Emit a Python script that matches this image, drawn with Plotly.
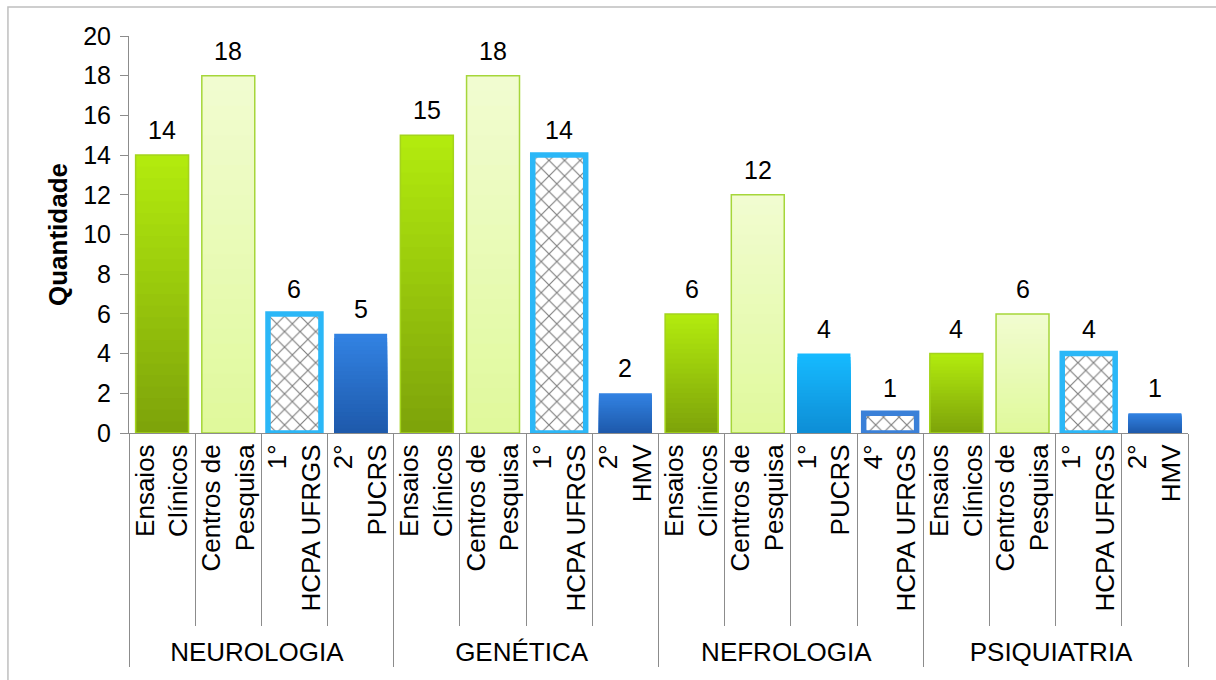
import plotly.graph_objects as go

# Dados: áreas, tipos de item e quantidades
areas = ["NEUROLOGIA"] * 4 + ["GENÉTICA"] * 4 + ["NEFROLOGIA"] * 4 + ["PSIQUIATRIA"] * 4
itens = [
    "Ensaios<br>Clínicos", "Centros de<br>Pesquisa", "1°<br>HCPA UFRGS", "2°<br>PUCRS",
    "Ensaios<br>Clínicos", "Centros de<br>Pesquisa", "1°<br>HCPA UFRGS", "2°<br>HMV",
    "Ensaios<br>Clínicos", "Centros de<br>Pesquisa", "1°<br>PUCRS", "4°<br>HCPA UFRGS",
    "Ensaios<br>Clínicos", "Centros de<br>Pesquisa", "1°<br>HCPA UFRGS", "2°<br>HMV",
]
quantidade = [14, 18, 6, 5, 15, 18, 14, 2, 6, 12, 4, 1, 4, 6, 4, 1]
estilo = ["ensaio", "centro", "hcpa", "azul",
          "ensaio", "centro", "hcpa", "azul",
          "ensaio", "centro", "ciano", "hcpa4",
          "ensaio", "centro", "hcpa", "azul"]

FONT = "Liberation Sans, Arial, sans-serif"

# Cores de preenchimento (topo, base) para o degradê vertical
degrade = {
    "ensaio": ((178, 234, 14), (126, 164, 10)),
    "centro": ((241, 252, 208), (224, 249, 156)),
    "azul": ((50, 130, 226), (30, 90, 172)),
    "ciano": ((22, 186, 255), (14, 142, 214)),
}
contorno = {
    "ensaio": ("#A4D41C", 1.5),
    "centro": ("#A6D63A", 1.5),
    "azul": ("rgba(0,0,0,0)", 0),
    "ciano": ("rgba(0,0,0,0)", 0),
    "hcpa": ("#2BB7F7", 5.5),
    "hcpa4": ("#3A80D8", 5.5),
}


def mistura(c1, c2, t):
    return "rgb(%d,%d,%d)" % tuple(round(a + (b - a) * t) for a, b in zip(c1, c2))


x = [areas, itens]
fig = go.Figure()

# Barras com hachura (fundo branco, padrão em losangos)
hach = [e.startswith("hcpa") for e in estilo]
fig.add_trace(go.Bar(
    x=x, y=[v if h else 0 for v, h in zip(quantidade, hach)],
    marker=dict(color="white", line=dict(width=0),
                pattern=dict(shape="x", fgcolor="#000000", bgcolor="white",
                             size=11, solidity=0.2)),
    hoverinfo="skip", showlegend=False,
))

# Camadas do degradê: cada camada cobre uma fração menor da altura da barra
N = 24
for k in range(N):
    t = k / (N - 1)
    frac = 1 - k / N
    cores = []
    for e in estilo:
        if e in degrade:
            topo, base = degrade[e]
            cores.append(mistura(topo, base, t))
        else:
            cores.append("rgba(0,0,0,0)")
    fig.add_trace(go.Bar(
        x=x, y=[v * frac for v in quantidade],
        marker=dict(color=cores, line=dict(width=0)),
        hoverinfo="skip", showlegend=False,
    ))

# Contornos das barras
fig.add_trace(go.Bar(
    x=x, y=quantidade,
    marker=dict(color="rgba(0,0,0,0)",
                line=dict(color=[contorno[e][0] for e in estilo],
                          width=[contorno[e][1] for e in estilo])),
    hoverinfo="skip", showlegend=False,
))

# Rótulos de valor acima de cada barra
for i, v in enumerate(quantidade):
    fig.add_annotation(x=i, y=v, text=str(v), showarrow=False,
                       yanchor="bottom", yshift=9,
                       font=dict(family=FONT, size=25, color="black"))

fig.update_layout(
    width=1216, height=680,
    margin=dict(l=129, r=28, t=36, b=247),
    paper_bgcolor="white", plot_bgcolor="white",
    barmode="overlay", bargap=0.2,
    font=dict(family=FONT, size=25, color="black"),
    showlegend=False,
)
fig.update_yaxes(
    range=[0, 20], dtick=2, showgrid=False, zeroline=False,
    showline=True, linecolor="#8C8C8C", linewidth=1,
    ticks="outside", ticklen=8, tickcolor="#8C8C8C",
    ticklabelstandoff=4,
    tickfont=dict(family=FONT, size=25),
    title=dict(text="<b>Quantidade</b>", font=dict(family=FONT, size=26), standoff=8),
)
fig.update_xaxes(
    type="multicategory", tickangle=-90,
    showline=True, linecolor="#8C8C8C", linewidth=1,
    ticks="outside", tickson="boundaries", ticklen=192, tickcolor="#8C8C8C",
    showdividers=True, dividercolor="#8C8C8C", dividerwidth=1,
    tickfont=dict(family=FONT, size=26),
)

# Moldura da área do gráfico
fig.add_shape(type="rect", xref="paper", yref="paper",
              x0=-0.1143, x1=1.05, y0=-0.7, y1=1.073,
              line=dict(color="#BFBFBF", width=1.5), fillcolor="rgba(0,0,0,0)",
              layer="below")

fig.write_html("out.html")
